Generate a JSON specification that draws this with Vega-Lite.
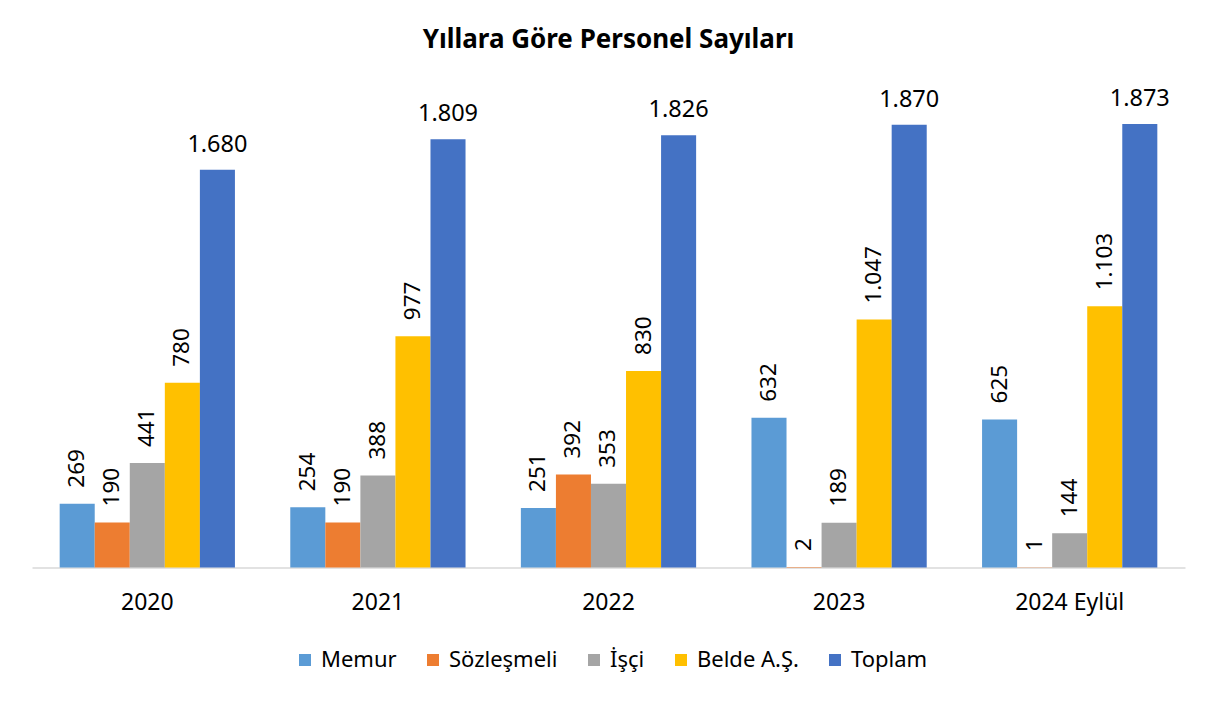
{
  "$schema": "https://vega.github.io/schema/vega-lite/v6.json",
  "width": 1153,
  "height": 473.4,
  "autosize": {"type": "none"},
  "padding": {"left": 32, "top": 94, "right": 26, "bottom": 134},
  "background": "white",
  "config": {
    "locale": {"number": {"decimal": ",", "thousands": ".", "grouping": [3], "currency": ["₺", ""]}},
    "view": {"stroke": null},
    "font": "Noto Sans"
  },
  "title": {"text": "Yıllara Göre Personel Sayıları", "fontSize": 26, "font": "Noto Sans", "fontWeight": "bold", "color": "#000000", "offset": 34},
  "data": {"values": [
    {"yil": "2020", "tur": "Memur", "sayi": 269},
    {"yil": "2020", "tur": "Sözleşmeli", "sayi": 190},
    {"yil": "2020", "tur": "İşçi", "sayi": 441},
    {"yil": "2020", "tur": "Belde A.Ş.", "sayi": 780},
    {"yil": "2020", "tur": "Toplam", "sayi": 1680},
    {"yil": "2021", "tur": "Memur", "sayi": 254},
    {"yil": "2021", "tur": "Sözleşmeli", "sayi": 190},
    {"yil": "2021", "tur": "İşçi", "sayi": 388},
    {"yil": "2021", "tur": "Belde A.Ş.", "sayi": 977},
    {"yil": "2021", "tur": "Toplam", "sayi": 1809},
    {"yil": "2022", "tur": "Memur", "sayi": 251},
    {"yil": "2022", "tur": "Sözleşmeli", "sayi": 392},
    {"yil": "2022", "tur": "İşçi", "sayi": 353},
    {"yil": "2022", "tur": "Belde A.Ş.", "sayi": 830},
    {"yil": "2022", "tur": "Toplam", "sayi": 1826},
    {"yil": "2023", "tur": "Memur", "sayi": 632},
    {"yil": "2023", "tur": "Sözleşmeli", "sayi": 2},
    {"yil": "2023", "tur": "İşçi", "sayi": 189},
    {"yil": "2023", "tur": "Belde A.Ş.", "sayi": 1047},
    {"yil": "2023", "tur": "Toplam", "sayi": 1870},
    {"yil": "2024 Eylül", "tur": "Memur", "sayi": 625},
    {"yil": "2024 Eylül", "tur": "Sözleşmeli", "sayi": 1},
    {"yil": "2024 Eylül", "tur": "İşçi", "sayi": 144},
    {"yil": "2024 Eylül", "tur": "Belde A.Ş.", "sayi": 1103},
    {"yil": "2024 Eylül", "tur": "Toplam", "sayi": 1873}
  ]},
  "encoding": {
    "x": {
      "field": "yil", "type": "nominal", "sort": null,
      "scale": {"paddingInner": 0.24, "paddingOuter": 0.12},
      "axis": {"title": null, "labelAngle": 0, "ticks": false, "domainColor": "#D9D9D9", "domainWidth": 1.5, "labelFontSize": 23, "labelFont": "Noto Sans", "labelColor": "#000000", "labelPadding": 24}
    },
    "xOffset": {
      "field": "tur", "type": "nominal",
      "sort": ["Memur", "Sözleşmeli", "İşçi", "Belde A.Ş.", "Toplam"],
      "scale": {"paddingInner": 0, "paddingOuter": 0}
    },
    "y": {"field": "sayi", "type": "quantitative", "scale": {"domain": [0, 2000]}, "axis": null}
  },
  "layer": [
    {
      "mark": {"type": "bar"},
      "encoding": {
        "color": {
          "field": "tur", "type": "nominal",
          "sort": ["Memur", "Sözleşmeli", "İşçi", "Belde A.Ş.", "Toplam"],
          "scale": {"domain": ["Memur", "Sözleşmeli", "İşçi", "Belde A.Ş.", "Toplam"], "range": ["#5B9BD5", "#ED7D31", "#A5A5A5", "#FFC000", "#4472C4"]},
          "legend": {"orient": "none", "legendX": 262, "legendY": 555, "direction": "horizontal", "title": null, "symbolType": "square", "symbolSize": 144, "symbolStrokeWidth": 0, "labelFontSize": 22, "labelFont": "Noto Sans", "labelColor": "#000000", "columnPadding": 25, "labelOffset": 5}
        }
      }
    },
    {
      "transform": [{"filter": "datum.tur !== 'Toplam'"}],
      "mark": {"type": "text", "angle": 270, "align": "left", "baseline": "middle", "dx": 16, "fontSize": 22.5, "font": "Noto Sans", "color": "#000000"},
      "encoding": {"text": {"field": "sayi", "type": "quantitative", "format": ",d"}}
    },
    {
      "transform": [{"filter": "datum.tur === 'Toplam'"}],
      "mark": {"type": "text", "align": "center", "baseline": "alphabetic", "dy": -18, "fontSize": 23.5, "font": "Noto Sans", "color": "#000000"},
      "encoding": {"text": {"field": "sayi", "type": "quantitative", "format": ",d"}}
    }
  ]
}
